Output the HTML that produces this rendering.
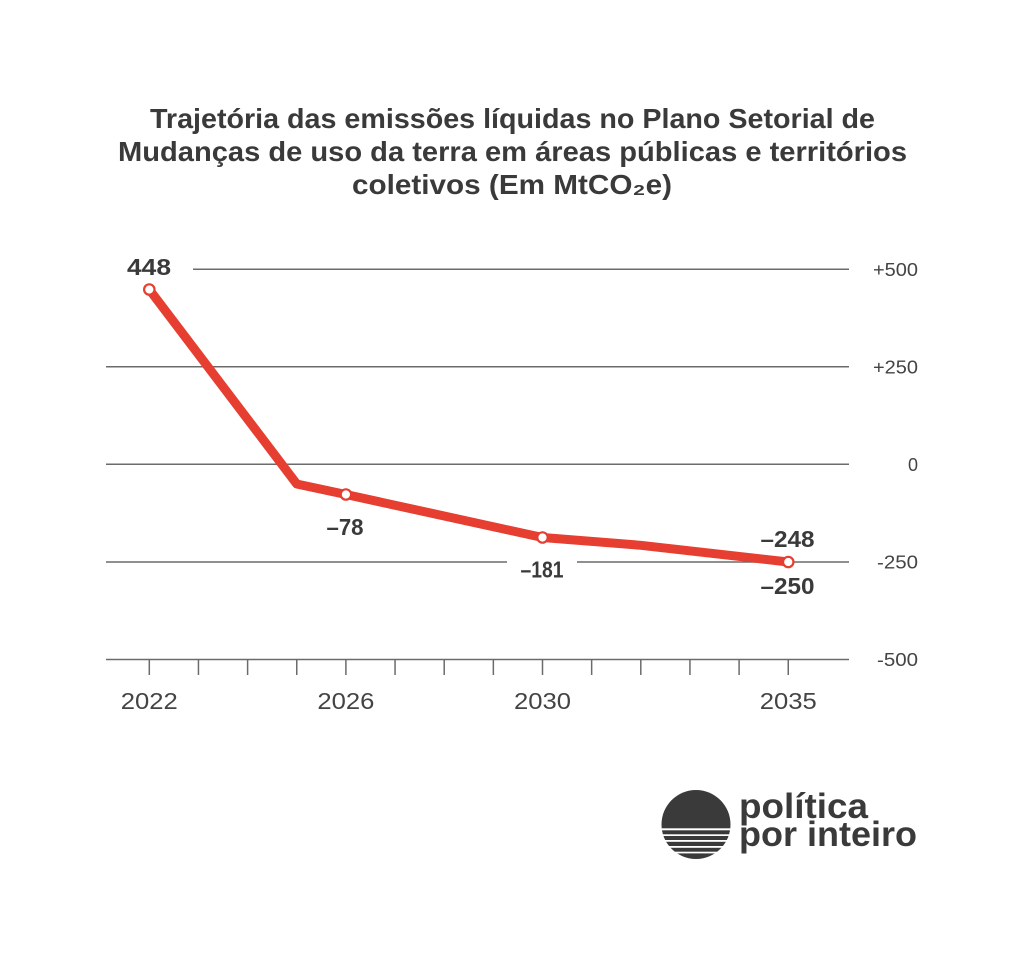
<!DOCTYPE html>
<html>
<head>
<meta charset="utf-8">
<style>
  html, body { margin:0; padding:0; background:#ffffff; }
  body { width:1024px; height:956px; overflow:hidden; }
  svg { display:block; }
  text { font-family: "Liberation Sans", "DejaVu Sans", sans-serif; }
</style>
</head>
<body>
<svg width="1024" height="956" viewBox="0 0 1024 956" xmlns="http://www.w3.org/2000/svg">
  <rect x="0" y="0" width="1024" height="956" fill="#ffffff"/>

  <!-- Title -->
  <g fill="#3a3a3a" font-weight="bold" font-size="28">
    <text x="150" y="128" textLength="725" lengthAdjust="spacingAndGlyphs">Trajetória das emissões líquidas no Plano Setorial de</text>
    <text x="118" y="161" textLength="789" lengthAdjust="spacingAndGlyphs">Mudanças de uso da terra em áreas públicas e territórios</text>
    <text x="352" y="194" textLength="320" lengthAdjust="spacingAndGlyphs">coletivos (Em MtCO₂e)</text>
  </g>

  <!-- Gridlines -->
  <g stroke="#6b6b6b" stroke-width="1.5" fill="none">
    <line x1="193" y1="269.3" x2="849" y2="269.3"/>
    <line x1="106" y1="366.7" x2="849" y2="366.7"/>
    <line x1="106" y1="464.3" x2="849" y2="464.3"/>
    <line x1="106" y1="562" x2="507" y2="562"/>
    <line x1="577" y1="562" x2="849" y2="562"/>
    <line x1="106" y1="659.5" x2="849" y2="659.5"/>
  </g>

  <!-- Ticks -->
  <g stroke="#6b6b6b" stroke-width="1.5">
    <line x1="149.3" y1="660" x2="149.3" y2="675"/>
    <line x1="198.45" y1="660" x2="198.45" y2="675"/>
    <line x1="247.6" y1="660" x2="247.6" y2="675"/>
    <line x1="296.75" y1="660" x2="296.75" y2="675"/>
    <line x1="345.9" y1="660" x2="345.9" y2="675"/>
    <line x1="395.05" y1="660" x2="395.05" y2="675"/>
    <line x1="444.2" y1="660" x2="444.2" y2="675"/>
    <line x1="493.35" y1="660" x2="493.35" y2="675"/>
    <line x1="542.5" y1="660" x2="542.5" y2="675"/>
    <line x1="591.65" y1="660" x2="591.65" y2="675"/>
    <line x1="640.8" y1="660" x2="640.8" y2="675"/>
    <line x1="689.95" y1="660" x2="689.95" y2="675"/>
    <line x1="739.1" y1="660" x2="739.1" y2="675"/>
    <line x1="788.25" y1="660" x2="788.25" y2="675"/>
  </g>

  <!-- Right axis labels -->
  <g fill="#444444" font-size="18" text-anchor="end">
    <text x="918" y="275.8" textLength="45" lengthAdjust="spacingAndGlyphs">+500</text>
    <text x="918" y="373.3" textLength="45" lengthAdjust="spacingAndGlyphs">+250</text>
    <text x="918" y="470.8">0</text>
    <text x="918" y="568.4" textLength="41" lengthAdjust="spacingAndGlyphs">-250</text>
    <text x="918" y="665.9" textLength="41" lengthAdjust="spacingAndGlyphs">-500</text>
  </g>

  <!-- Year labels -->
  <g fill="#444444" font-size="23" text-anchor="middle">
    <text x="149.3" y="709" textLength="57" lengthAdjust="spacingAndGlyphs">2022</text>
    <text x="345.9" y="709" textLength="57" lengthAdjust="spacingAndGlyphs">2026</text>
    <text x="542.5" y="709" textLength="57" lengthAdjust="spacingAndGlyphs">2030</text>
    <text x="788.25" y="709" textLength="57" lengthAdjust="spacingAndGlyphs">2035</text>
  </g>

  <!-- Series line -->
  <polyline points="149.3,289.5 296.75,484 345.9,494.5 542.5,537.5 640.8,545.3 788.25,562"
            fill="none" stroke="#e63e30" stroke-width="9" stroke-linejoin="round" stroke-linecap="round"/>

  <!-- Markers -->
  <g fill="#ffffff" stroke="#e63e30" stroke-width="2.2">
    <circle cx="149.3" cy="289.5" r="5.2"/>
    <circle cx="345.9" cy="494.5" r="5.2"/>
    <circle cx="542.5" cy="537.5" r="5.2"/>
    <circle cx="788.25" cy="562" r="5.2"/>
  </g>

  <!-- Data labels -->
  <g fill="#3a3a3a" font-weight="bold" font-size="23" text-anchor="middle">
    <text x="149" y="275" textLength="44" lengthAdjust="spacingAndGlyphs">448</text>
    <text x="345" y="535" textLength="37" lengthAdjust="spacingAndGlyphs">–78</text>
    <text x="542" y="577.5" textLength="43" lengthAdjust="spacingAndGlyphs">–181</text>
    <text x="787.5" y="547" textLength="54" lengthAdjust="spacingAndGlyphs">–248</text>
    <text x="787.5" y="594" textLength="54" lengthAdjust="spacingAndGlyphs">–250</text>
  </g>

  <!-- Logo -->
  <defs>
    <clipPath id="logoclip">
      <circle cx="696" cy="824.5" r="34.5"/>
    </clipPath>
  </defs>
  <g clip-path="url(#logoclip)" fill="#3a3a3a">
    <rect x="660" y="789" width="72" height="39.3"/>
    <rect x="660" y="830.3" width="72" height="4"/>
    <rect x="660" y="836" width="72" height="4"/>
    <rect x="660" y="841.8" width="72" height="4.2"/>
    <rect x="660" y="847.8" width="72" height="3.9"/>
    <rect x="660" y="853.4" width="72" height="8"/>
  </g>
  <g fill="#3a3a3a" font-weight="bold" font-size="35">
    <text x="739" y="818" textLength="129" lengthAdjust="spacingAndGlyphs">política</text>
    <text x="739" y="846" textLength="178" lengthAdjust="spacingAndGlyphs">por inteiro</text>
  </g>
</svg>
</body>
</html>
